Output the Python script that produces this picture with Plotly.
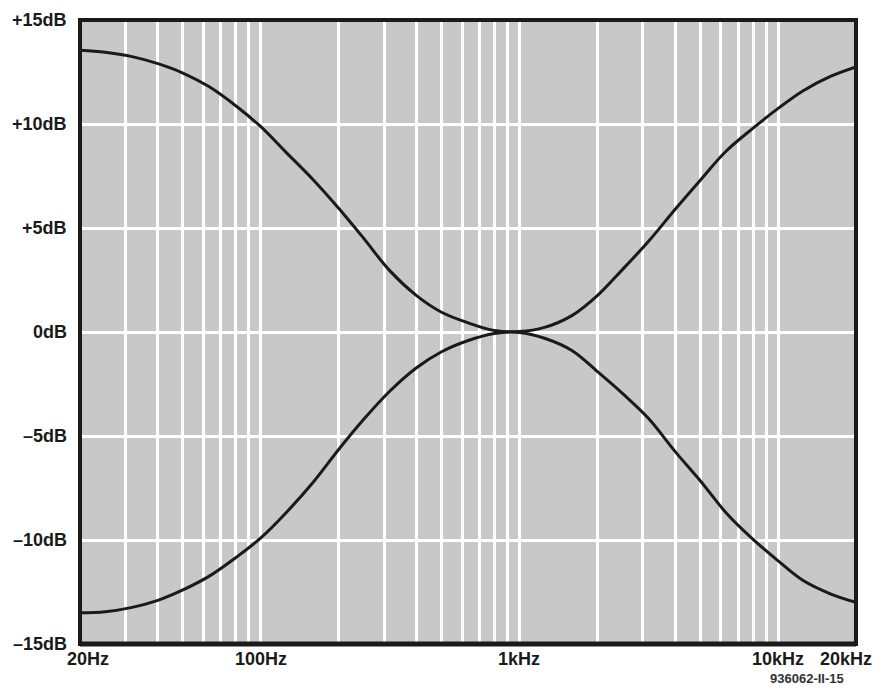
import math
import plotly.graph_objects as go

# ---- data (third-octave frequencies) ----
freq = [20, 25, 31.5, 40, 50, 63, 80, 100, 125, 160, 200, 250, 315, 400, 500, 630, 800,
        1000, 1250, 1600, 2000, 2500, 3150, 4000, 5000, 6300, 8000, 10000, 12500, 16000, 20000]
gain_upper = [13.55, 13.45, 13.25, 12.9, 12.45, 11.8, 10.88, 9.87, 8.65, 7.3, 5.95, 4.5, 2.95, 1.75, 0.95, 0.45, 0.07,
              0.02, 0.22, 0.8, 1.75, 3.0, 4.35, 5.9, 7.3, 8.7, 9.8, 10.75, 11.6, 12.3, 12.75]
gain_lower = [-13.5, -13.45, -13.25, -12.9, -12.4, -11.75, -10.85, -9.9, -8.7, -7.2, -5.65, -4.2, -2.85, -1.72, -0.95, -0.42, -0.07,
              -0.02, -0.3, -0.9, -1.9, -2.95, -4.15, -5.75, -7.15, -8.7, -9.97, -11.0, -11.95, -12.6, -13.0]

x_grid = [20, 30, 40, 50, 60, 70, 80, 90, 100, 200, 300, 400, 500, 600, 700, 800, 900,
          1000, 2000, 3000, 4000, 5000, 6000, 7000, 8000, 9000, 10000, 20000]
x_label_vals = [20, 100, 1000, 10000, 20000]
x_label_text = ["20Hz", "100Hz", "1kHz", "10kHz", "20kHz"]
y_label_vals = [15, 10, 5, 0, -5, -10, -15]
y_label_text = ["+15dB", "+10dB", "+5dB", "0dB", "–5dB", "–10dB", "–15dB"]
figure_code = "936062-II-15"

FONT = "Liberation Sans"
INK = "#1a1a1a"

fig = go.Figure()
for gy in (gain_upper, gain_lower):
    fig.add_trace(go.Scatter(x=freq, y=gy, mode="lines",
                             line=dict(color=INK, width=3, shape="spline", smoothing=1.0),
                             hoverinfo="skip", showlegend=False))

annotations = []
x_shifts = {20: 8, 20000: -10}
for v, t in zip(x_label_vals, x_label_text):
    annotations.append(dict(x=math.log10(v), y=0, xref="x", yref="paper", text=f"<b>{t}</b>",
                            showarrow=False, xanchor="center", yanchor="top", borderpad=0,
                            xshift=x_shifts.get(v, 0), yshift=-4,
                            font=dict(family=FONT, size=18, color=INK)))
for v, t in zip(y_label_vals, y_label_text):
    annotations.append(dict(x=0, y=v, xref="paper", yref="y", text=f"<b>{t}</b>",
                            showarrow=False, xanchor="right", yanchor="middle",
                            xshift=-11, font=dict(family=FONT, size=18, color=INK)))
annotations.append(dict(x=1, y=0, xref="paper", yref="paper", text=f"<b>{figure_code}</b>",
                        showarrow=False, xanchor="right", yanchor="top", borderpad=0,
                        xshift=-11, yshift=-26,
                        font=dict(family=FONT, size=13, color="#333333")))

# page body adds an 8px offset, so the figure is sized to keep the plot where the reference has it
fig.update_layout(
    width=866, height=679,
    margin=dict(l=72, r=18, t=12, b=43),
    paper_bgcolor="white",
    plot_bgcolor="#c8c8c8",
    xaxis=dict(type="log", range=[math.log10(20), math.log10(20000)],
               tickvals=x_grid, showticklabels=False, ticks="",
               showgrid=True, gridcolor="white", gridwidth=2.5,
               zeroline=False, showline=False, fixedrange=True),
    yaxis=dict(range=[-15, 15], tickvals=y_label_vals, showticklabels=False, ticks="",
               showgrid=True, gridcolor="white", gridwidth=3,
               zeroline=False, showline=False, fixedrange=True),
    annotations=annotations,
    shapes=[
        dict(type="rect", xref="paper", yref="paper", x0=0, x1=1, y0=0, y1=1,
             line=dict(color=INK, width=4), layer="above"),
        dict(type="line", xref="paper", yref="paper", x0=0, x1=1, y0=0, y1=0,
             line=dict(color=INK, width=5), layer="above"),
    ],
)

fig.write_html("out.html")
